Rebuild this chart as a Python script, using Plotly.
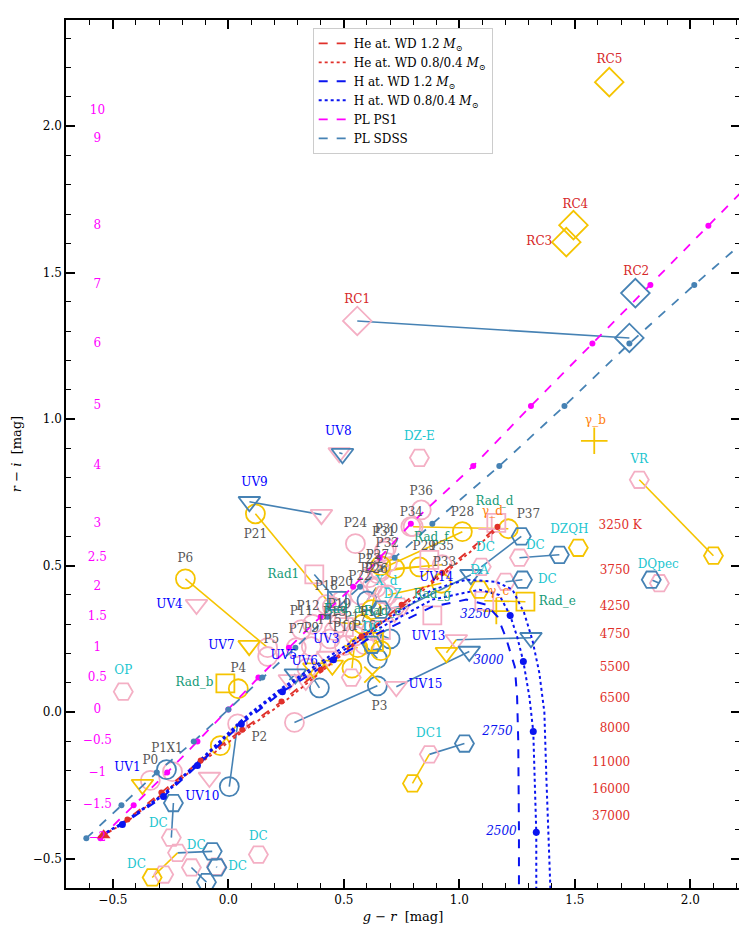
import plotly.graph_objects as go

FONT = "DejaVu Serif"
PS1_COL = "#f4afc4"
SDSS_COL = "#4682b4"
SM_COL = "#f5c400"

# ---- model tracks (g-r, r-i) ----
HE12_GR = [-0.54, -0.437, -0.29, -0.12, 0.06, 0.23, 0.40, 0.576, 0.75, 0.926, 1.165]
HE12_RI = [-0.42, -0.366, -0.274, -0.165, -0.06, 0.036, 0.145, 0.258, 0.367, 0.476, 0.633]
HE0804_GR = [-0.54, -0.43, -0.28, -0.11, 0.07, 0.24, 0.41, 0.585, 0.76, 0.935, 1.17]
HE0804_RI = [-0.42, -0.368, -0.276, -0.167, -0.062, 0.034, 0.143, 0.256, 0.364, 0.473, 0.628]
HE_TEMPS = ["3250 K", "3750", "4250", "4750", "5500", "6500", "8000", "11000", "16000", "37000"]
HE_TEMP_GR = [1.79, 1.74, 1.74, 1.74, 1.74, 1.74, 1.74, 1.74, 1.74, 1.74]
HE_TEMP_RI = [0.636, 0.483, 0.36, 0.265, 0.152, 0.046, -0.056, -0.172, -0.264, -0.356]

H12_GR = [-0.55, -0.459, -0.281, -0.134, 0.056, 0.234, 0.455, 0.65, 0.883, 1.03, 1.117,
          1.165, 1.2, 1.24, 1.25, 1.255, 1.258, 1.258]
H12_RI = [-0.42, -0.383, -0.288, -0.182, -0.04, 0.07, 0.179, 0.27, 0.36, 0.384, 0.367,
          0.326, 0.258, 0.155, 0.053, -0.1, -0.4, -0.6]
H08_GR = [-0.55, -0.459, -0.281, -0.134, 0.056, 0.234, 0.455, 0.65, 0.883, 1.087, 1.173,
          1.22, 1.25, 1.277, 1.303, 1.32, 1.333, 1.333]
H08_RI = [-0.42, -0.38, -0.284, -0.177, -0.034, 0.077, 0.19, 0.285, 0.384, 0.418, 0.40,
          0.33, 0.258, 0.173, 0.053, -0.066, -0.41, -0.6]
H04_GR = [-0.55, -0.459, -0.281, -0.134, 0.056, 0.234, 0.455, 0.74, 0.883, 1.03, 1.16,
          1.23, 1.28, 1.316, 1.346, 1.368, 1.377, 1.394]
H04_RI = [-0.42, -0.378, -0.28, -0.172, -0.028, 0.084, 0.2, 0.343, 0.418, 0.452, 0.445,
          0.418, 0.34, 0.247, 0.135, 0.0, -0.23, -0.6]
H_DOT_GR = [-0.459, -0.281, -0.134, 0.056, 0.234, 0.455, 1.22, 1.277, 1.32, 1.333]
H_DOT_RI = [-0.383, -0.288, -0.182, -0.04, 0.07, 0.179, 0.33, 0.173, -0.066, -0.41]
H_TEMPS = ["3250", "3000", "2750", "2500"]
H_TEMP_GR = [1.069, 1.126, 1.165, 1.182]
H_TEMP_RI = [0.333, 0.176, -0.066, -0.41]

# ---- power laws ----
PL_ALPHA = ["-2", "-1.5", "-1", "-0.5", "0", "0.5", "1", "1.5", "2", "2.5", "3", "4",
            "5", "6", "7", "8", "9", "10"]
PL_RI = [-0.43, -0.318, -0.206, -0.10, 0.009, 0.118, 0.22, 0.326, 0.428, 0.527, 0.643,
         0.84, 1.045, 1.258, 1.458, 1.66, 1.956, 2.05]
PS1_GR = [-0.554, -0.41, -0.265, -0.134, 0.0, 0.13, 0.262, 0.40, 0.54, 0.655, 0.79, 1.06,
          1.31, 1.576, 1.827, 2.078, 2.448, 2.565]
SDSS_GR = [-0.615, -0.463, -0.31, -0.15, 0.0, 0.147, 0.29, 0.43, 0.57, 0.72, 0.883, 1.173,
           1.455, 1.736, 2.017, 2.31, 2.72, 2.85]
PL_LABEL_GR = -0.567

# ---- objects: (label, PS1 (g-r, r-i), SDSS, SkyMapper, label position) ----
P_OBJECTS = [
    ("P0", (-0.338, -0.233), None, None, (-0.338, -0.168)),
    ("P1", (-0.242, -0.203), None, None, (-0.30, -0.124)),
    ("X1", None, (-0.268, -0.196), None, (-0.233, -0.124)),
    ("P2", (0.04, -0.04), (0.004, -0.254), (-0.035, -0.114), (0.134, -0.087)),
    ("P3", (0.286, -0.035), (0.645, 0.09), None, (0.654, 0.019)),
    ("P4", None, None, (0.043, 0.08), (0.043, 0.149)),
    ("P5", (0.17, 0.19), None, None, (0.186, 0.248)),
    ("P6", (0.17, 0.22), None, (-0.186, 0.455), (-0.186, 0.524)),
    ("P7", (0.294, 0.22), None, None, (0.294, 0.282)),
    ("", (0.34, 0.15), (0.394, 0.083), None, None),
    ("P9", (0.359, 0.224), None, None, (0.359, 0.285)),
    ("P10", (0.502, 0.227), None, (0.56, 0.22), (0.502, 0.288)),
    ("P11", (0.316, 0.282), None, None, (0.316, 0.343)),
    ("P12", (0.364, 0.30), None, None, (0.345, 0.36)),
    ("P13", (0.459, 0.278), None, None, (0.459, 0.34)),
    ("P14", (0.619, 0.278), (0.70, 0.25), (0.66, 0.21), (0.619, 0.34)),
    ("P15", (0.44, 0.25), None, None, (0.44, 0.31)),
    ("P16", (0.589, 0.23), (0.645, 0.183), None, (0.589, 0.29)),
    ("P17", (0.55, 0.26), None, (0.535, 0.15), (0.55, 0.32)),
    ("P18", (0.424, 0.367), None, None, (0.424, 0.428)),
    ("P19", (0.48, 0.305), None, (0.58, 0.30), (0.48, 0.367)),
    ("P20", (0.489, 0.38), None, None, (0.489, 0.44)),
    ("P21", (0.45, 0.36), None, (0.117, 0.677), (0.117, 0.606)),
    ("P22", (0.57, 0.40), None, None, (0.57, 0.46)),
    ("P23", (0.61, 0.459), None, None, (0.61, 0.52)),
    ("P24", (0.55, 0.575), None, None, (0.55, 0.643)),
    ("P25", (0.623, 0.43), None, None, (0.623, 0.49)),
    ("P26", (0.64, 0.425), (0.60, 0.38), (0.62, 0.35), (0.64, 0.486)),
    ("P27", (0.645, 0.473), None, (0.66, 0.50), (0.645, 0.534)),
    ("P28", (0.654, 0.486), None, (1.013, 0.616), (1.013, 0.68)),
    ("P29", (0.66, 0.48), None, (0.827, 0.496), (0.848, 0.565)),
    ("P30", (0.684, 0.56), None, None, (0.684, 0.62)),
    ("P31", (0.675, 0.55), None, None, (0.672, 0.61)),
    ("P32", (0.688, 0.51), None, None, (0.688, 0.573)),
    ("P33", (0.69, 0.40), None, (0.922, 0.44), (0.935, 0.51)),
    ("P34", (0.79, 0.633), None, None, (0.792, 0.678)),
    ("P35", (0.926, 0.503), None, (0.72, 0.49), (0.926, 0.565)),
    ("P36", (0.835, 0.69), None, None, (0.835, 0.75)),
    ("P37", (0.80, 0.633), None, (1.212, 0.626), (1.299, 0.674)),
]

UV_OBJECTS = [
    ("UV1", None, None, (-0.372, -0.247), (-0.437, -0.189)),
    ("UV3", (0.43, 0.19), None, (0.45, 0.16), (0.424, 0.248)),
    ("UV4", (-0.138, 0.367), None, None, (-0.255, 0.367)),
    ("UV5", (0.264, 0.11), (0.29, 0.13), None, (0.24, 0.19)),
    ("UV6", (0.335, 0.108), None, (0.37, 0.15), (0.33, 0.172)),
    ("UV7", None, None, (0.09, 0.227), (-0.03, 0.227)),
    ("UV8", (0.48, 0.885), (0.494, 0.882), None, (0.476, 0.957)),
    ("UV9", (0.403, 0.674), (0.091, 0.718), None, (0.113, 0.783)),
    ("UV10", (-0.082, -0.223), None, None, (-0.113, -0.288)),
    ("UV13", (0.987, 0.247), (1.31, 0.254), (0.944, 0.203), (0.866, 0.258)),
    ("UV14", (0.72, 0.34), (1.05, 0.469), None, (0.9, 0.459)),
    ("UV15", (0.727, 0.087), (1.043, 0.207), None, (0.853, 0.094)),
]

RAD_OBJECTS = [
    ("Rad1", (0.372, 0.47), (0.47, 0.38), None, (0.238, 0.469)),
    ("Rad_a", (0.50, 0.29), None, None, (0.494, 0.35)),
    ("Rad_b", None, None, (-0.013, 0.098), (-0.147, 0.098)),
    ("Rad_c", (0.66, 0.28), None, (0.63, 0.24), (0.667, 0.343)),
    ("Rad_d", (1.16, 0.646), None, None, (1.152, 0.718)),
    ("Rad_e", (1.108, 0.38), None, (1.286, 0.377), (1.424, 0.377)),
    ("Rad_f", (0.87, 0.52), None, None, (0.879, 0.595)),
    ("Rad_g", (0.883, 0.33), None, None, (0.883, 0.4)),
]

DC_OBJECTS = [
    ("OP", (-0.455, 0.07), None, None, (-0.455, 0.142)),
    ("DZ-E", (0.827, 0.868), None, None, (0.827, 0.94)),
    ("VR", (1.779, 0.793), None, (2.10, 0.534), (1.779, 0.861)),
    ("DQpec", (1.866, 0.44), (1.831, 0.452), None, (1.861, 0.503)),
    ("DZQH", None, None, (1.515, 0.561), (1.476, 0.623)),
    ("DC", (1.26, 0.527), (1.433, 0.537), None, (1.329, 0.568)),
    ("DC", (1.2, 0.445), (1.273, 0.452), None, (1.381, 0.452)),
    ("DC", (1.095, 0.496), (1.268, 0.60), None, (1.113, 0.561)),
    ("DA", None, None, (1.087, 0.418), (1.087, 0.483)),
    ("DC1", (0.87, -0.144), (1.022, -0.107), (0.797, -0.243), (0.87, -0.076)),
    ("DC", (-0.247, -0.428), (-0.238, -0.31), None, (-0.303, -0.383)),
    ("DC", (-0.22, -0.48), (-0.07, -0.475), (-0.33, -0.564), (-0.139, -0.458)),
    ("", (-0.16, -0.53), (-0.095, -0.58), None, None),
    ("DC", (-0.052, -0.527), (-0.05, -0.53), None, (0.04, -0.527)),
    ("DC", (-0.28, -0.554), None, None, (-0.398, -0.52)),
    ("DC", (0.13, -0.486), None, None, (0.13, -0.425)),
    ("X_d", (0.67, 0.40), None, None, (0.684, 0.445)),
    ("DZ", (0.74, 0.36), (0.66, 0.35), None, (0.712, 0.40)),
    ("DC", None, (0.623, 0.23), None, (0.623, 0.288)),
    ("", (0.532, 0.118), None, None, None),
]

RC_OBJECTS = [
    ("RC1", (0.558, 1.335), (1.736, 1.277), None, (0.558, 1.407)),
    ("RC2", None, (1.762, 1.43), None, (1.766, 1.502)),
    ("RC3", None, None, (1.463, 1.604), (1.346, 1.605)),
    ("RC4", None, None, (1.494, 1.662), (1.502, 1.73)),
    ("RC5", None, None, (1.649, 2.15), (1.65, 2.225)),
]

GAMMA_OBJECTS = [
    ("γ_b", None, None, (1.584, 0.926), (1.589, 0.994)),
    ("γ_c", None, None, (1.16, 0.345), (1.173, 0.41)),
    ("γ_d", (1.14, 0.625), None, None, (1.143, 0.684)),
]

X_OBJECTS = [
    ("", None, None, (0.623, 0.128), None),
]

GROUPS = [
    (P_OBJECTS, "circle-open", 19, "#555555"),
    (UV_OBJECTS, "triangle-down-open", 19, "#0000ff"),
    (RAD_OBJECTS, "square-open", 18, "#169a78"),
    (DC_OBJECTS, "hexagon2-open", 19, "#1cc6d0"),
    (RC_OBJECTS, "diamond-open", 22, "#d62728"),
    (GAMMA_OBJECTS, "cross-thin-open", 19, "#ff7f0e"),
    (X_OBJECTS, "x-thin-open", 16, "#555555"),
]

fig = go.Figure()

# connecting lines PS1 -> SDSS (steelblue) and PS1 -> SkyMapper (gold)
bx, by, gx, gy = [], [], [], []
for objs, _, _, _ in GROUPS:
    for name, ps1, sdss, sm, lab in objs:
        if ps1 and sdss:
            bx += [ps1[0], sdss[0], None]
            by += [ps1[1], sdss[1], None]
        if ps1 and sm:
            gx += [ps1[0], sm[0], None]
            gy += [ps1[1], sm[1], None]
fig.add_trace(go.Scatter(x=bx, y=by, mode="lines", line=dict(color=SDSS_COL, width=1.6),
                         showlegend=False, hoverinfo="skip"))
fig.add_trace(go.Scatter(x=gx, y=gy, mode="lines", line=dict(color=SM_COL, width=1.6),
                         showlegend=False, hoverinfo="skip"))

for objs, symbol, size, _ in GROUPS:
    for idx, col in ((1, PS1_COL), (2, SDSS_COL), (3, SM_COL)):
        pts = [o[idx] for o in objs if o[idx]]
        if not pts:
            continue
        fig.add_trace(go.Scatter(
            x=[p[0] for p in pts], y=[p[1] for p in pts], mode="markers",
            marker=dict(symbol=symbol, size=size, color=col,
                        line=dict(color=col, width=1.8)),
            showlegend=False, hoverinfo="skip"))

# model tracks
def track(xs, ys, name, color, dash, width=1.8):
    fig.add_trace(go.Scatter(x=xs, y=ys, mode="lines", name=name,
                             line=dict(color=color, dash=dash, width=width),
                             hoverinfo="skip"))

track(HE12_GR, HE12_RI, "He at. WD 1.2 <i>M</i><sub>⊙</sub>", "#e0302a", "dash")
track(HE0804_GR, HE0804_RI, "He at. WD 0.8/0.4 <i>M</i><sub>⊙</sub>", "#e0302a", "dot")
track(H12_GR, H12_RI, "H at. WD 1.2 <i>M</i><sub>⊙</sub>", "#0a14f0", "dash", 2)
track(H08_GR, H08_RI, "H at. WD 0.8/0.4 <i>M</i><sub>⊙</sub>", "#0a14f0", "dot", 2)
fig.add_trace(go.Scatter(x=H04_GR, y=H04_RI, mode="lines", showlegend=False,
                         line=dict(color="#0a14f0", dash="dot", width=2), hoverinfo="skip"))
track(PS1_GR, PL_RI, "PL PS1", "#ff00ff", "dash")
track(SDSS_GR, PL_RI, "PL SDSS", SDSS_COL, "dash")

# dots on tracks
for xs, ys, col, sz in ((HE12_GR[1:], HE12_RI[1:], "#e0302a", 6),
                        (H_DOT_GR, H_DOT_RI, "#0a14f0", 7),
                        (PS1_GR, PL_RI, "#ff00ff", 6),
                        (SDSS_GR, PL_RI, SDSS_COL, 6)):
    fig.add_trace(go.Scatter(x=xs, y=ys, mode="markers", showlegend=False,
                             marker=dict(color=col, size=sz), hoverinfo="skip"))
fig.add_trace(go.Scatter(x=HE12_GR[:1], y=HE12_RI[:1], mode="markers", showlegend=False,
                         marker=dict(symbol="triangle-up", color="#e0302a", size=12),
                         hoverinfo="skip"))

# temperature and index labels
fig.add_trace(go.Scatter(x=HE_TEMP_GR, y=HE_TEMP_RI, text=HE_TEMPS, mode="text",
                         textposition="middle left", showlegend=False, hoverinfo="skip",
                         textfont=dict(family=FONT, size=12, color="#e0302a")))
fig.add_trace(go.Scatter(x=H_TEMP_GR, y=H_TEMP_RI, text=["<i>%s</i>" % t for t in H_TEMPS],
                         mode="text", showlegend=False, hoverinfo="skip",
                         textfont=dict(family=FONT, size=12, color="#0a14f0")))
fig.add_trace(go.Scatter(x=[PL_LABEL_GR] * len(PL_RI), y=PL_RI,
                         text=[a.replace("-", "−") for a in PL_ALPHA], mode="text",
                         showlegend=False, hoverinfo="skip",
                         textfont=dict(family=FONT, size=12, color="#ff00ff")))

# object labels
lx, ly, lt, lc = [], [], [], []
for objs, _, _, col in GROUPS:
    for name, ps1, sdss, sm, lab in objs:
        if name and lab:
            lx.append(lab[0])
            ly.append(lab[1])
            lt.append(name)
            lc.append(col)
fig.add_trace(go.Scatter(x=lx, y=ly, text=lt, mode="text", showlegend=False,
                         hoverinfo="skip", textfont=dict(family=FONT, size=12, color=lc)))

axis_common = dict(
    showgrid=False, zeroline=False, showline=True, linecolor="black", linewidth=1.5,
    mirror="ticks", ticks="inside", ticklen=9, tickwidth=1.5, tickcolor="black",
    dtick=0.5, tickformat=".1f", automargin=False,
    minor=dict(dtick=0.1, ticks="inside", ticklen=5, tickwidth=1, tickcolor="black"),
    tickfont=dict(family=FONT, size=12, color="black"),
)

# the page body adds an 8px offset, so the figure is 8px smaller on each side
fig.update_layout(
    width=739, height=930,
    margin=dict(l=58, r=7, t=12, b=50),
    plot_bgcolor="white", paper_bgcolor="white",
    font=dict(family=FONT, size=12, color="black"),
    xaxis=dict(range=[-0.703, 2.215],
               title=dict(text="<i>g</i> − <i>r</i>  [mag]", font=dict(size=13), standoff=6),
               **axis_common),
    yaxis=dict(range=[-0.6, 2.362],
               title=dict(text="<i>r</i> − <i>i</i>  [mag]", font=dict(size=13), standoff=8),
               **axis_common),
    legend=dict(x=0.366, y=0.991, xanchor="left", yanchor="top",
                bgcolor="white", bordercolor="#cccccc", borderwidth=1,
                font=dict(family=FONT, size=12)),
    showlegend=True,
)

fig.write_html("out.html")
